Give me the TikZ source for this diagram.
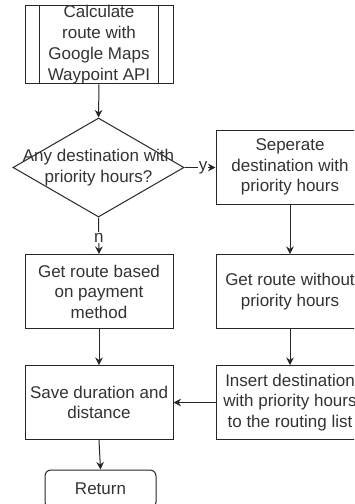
\documentclass[tikz,border=0pt]{standalone}
\usepackage{fontspec}
\setmainfont{Liberation Sans}
\usetikzlibrary{shapes.geometric,arrows.meta}
\begin{document}
\begin{tikzpicture}[x=1pt,y=-1pt,
  txt/.style={font=\fontsize{17}{20.5}\selectfont, text=black!80, align=center},
  box/.style={txt, draw=black!85, line width=1pt, minimum width=148pt, minimum height=74pt, inner sep=0pt, fill=white},
  dia/.style={draw=black!85, line width=1pt, diamond, minimum width=171pt, minimum height=99pt, inner sep=0pt, fill=white},
  term/.style={txt, draw=black!85, line width=1pt, rounded corners=6pt, minimum width=111pt, minimum height=38pt, inner sep=0pt},
  conn/.style={draw=black!85, line width=1pt, -{Stealth[length=7.5pt,width=7.5pt]}},
  lbl/.style={txt, fill=white, inner sep=1pt}
]
\useasboundingbox (0,0) rectangle (354,504);
\clip (0,0) rectangle (354,504);
\fill[white] (0,0) rectangle (354,504);

\node[box, minimum height=75pt, font=\fontsize{17}{21}\selectfont] (calc) at (99,44.5) {Calculate\\route with\\Google Maps\\Waypoint API};
\draw[draw=black!85, line width=1pt] ([xshift=15pt]calc.north west) -- ([xshift=15pt]calc.south west)
  ([xshift=-15pt]calc.north east) -- ([xshift=-15pt]calc.south east);

\node[dia] (dec) at (98.5,167.5) {};
\node[txt] (dect) at (dec.center) {Any destination with\\priority hours?};

\node[box] (sep) at (290,167) {Seperate\\destination with\\priority hours};
\node[box] (pay) at (99,291.5) {Get route based\\on payment\\method};
\node[box] (wo) at (290,291.5) {Get route without\\priority hours};
\node[box] (save) at (99,402.5) {Save duration and\\distance};
\node[box] (ins) at (290,402.5) {Insert destination\\with priority hours\\to the routing list};
\node[term] (ret) at (100.5,489) {Return};

\draw[conn] (calc.south) -- (dec.north);
\draw[conn] (dec.east) -- node[lbl, pos=0.6] (ly) {y} (sep.west |- dec.east);
\draw[conn] (dec.south) -- node[lbl, pos=0.55] (ln) {n} (pay.north);
\draw[conn] (sep.south) -- (wo.north);
\draw[conn] (pay.south) -- (save.north);
\draw[conn] (wo.south) -- (ins.north);
\draw[conn] (ins.west) -- (save.east);
\draw[conn] (save.south) -- (ret.north);
\end{tikzpicture}
\end{document}
